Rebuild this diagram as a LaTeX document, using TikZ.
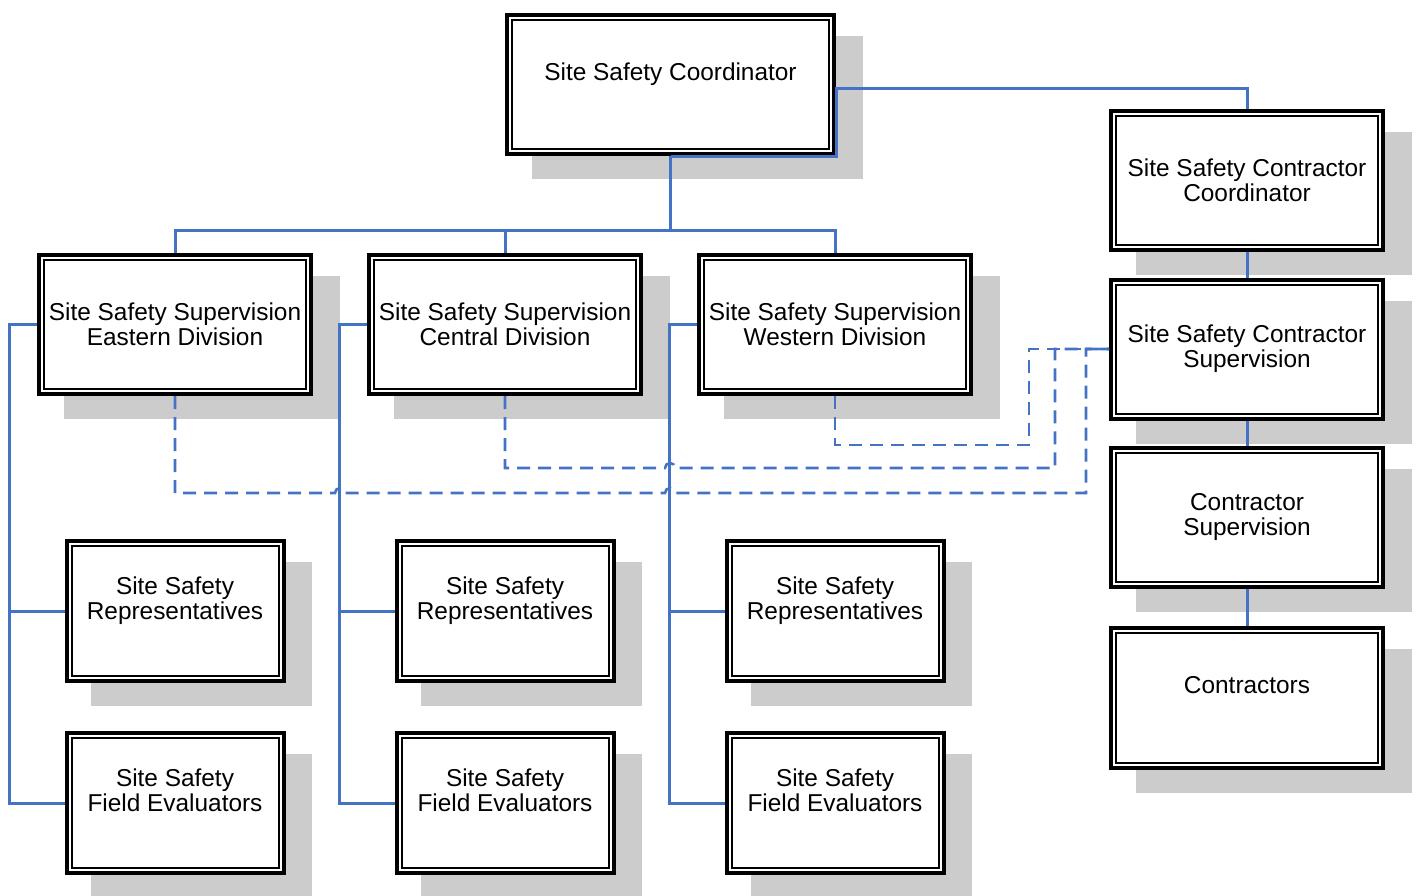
\documentclass[tikz,border=0pt]{standalone}
\usepackage{fontspec}
\setmainfont{Liberation Sans}
\usetikzlibrary{positioning,shadows}
\definecolor{linkblue}{RGB}{68,114,196}

\begin{document}
\begin{tikzpicture}[x=0.5pt,y=-0.5pt,node distance=13pt,line join=miter]
    % 方框与连线样式
    \tikzstyle{box}=[draw,line width=2pt,fill=white,align=center,
        minimum width=136pt,minimum height=69.5pt,
        font=\fontsize{12.2pt}{12.5pt}\selectfont,
        drop shadow={shadow xshift=13.25pt,shadow yshift=-11.5pt,
            fill=black!20,draw=black!20,opacity=1},
        path picture={\draw[line width=1pt]
            ([shift={(2.5pt,-2.5pt)}]path picture bounding box.north west) rectangle
            ([shift={(-2.5pt,2.5pt)}]path picture bounding box.south east);}]
    \tikzstyle{small box}=[box,minimum width=108.5pt,minimum height=70pt]
    \tikzstyle{link}=[draw=linkblue,line width=1.5pt]
    \tikzstyle{dashlink}=[link,line width=1.3pt,dash pattern=on 6.5pt off 4pt]

    \useasboundingbox (0,0) rectangle (1416,895);

    % 上层节点
    \node[box,minimum width=163.5pt] (ssc) at (670.5,84.5) {Site Safety Coordinator\\ ~};
    \node[box] (sscc) at (1247,180) {Site Safety Contractor\\Coordinator};
    \node[box] (sscs) [below=13pt of sscc] {Site Safety Contractor\\Supervision};
    \node[box] (cs) [below=12.5pt of sscs] {Contractor\\Supervision};
    \node[box,minimum height=70pt] (ctr) [below=18.5pt of cs] {Contractors\\ ~};

    % 分部节点
    \node[box] (east) at (175,324.5) {Site Safety Supervision\\Eastern Division};
    \node[box] (cent) at (505,324.5) {Site Safety Supervision\\Central Division};
    \node[box] (west) at (835,324.5) {Site Safety Supervision\\Western Division};

    \node[small box] (erep) [below=71.5pt of east] {Site Safety\\Representatives\\ ~};
    \node[small box] (efe) [below=24pt of erep] {Site Safety\\Field Evaluators\\ ~};
    \node[small box] (crep) [below=71.5pt of cent] {Site Safety\\Representatives\\ ~};
    \node[small box] (cfe) [below=24pt of crep] {Site Safety\\Field Evaluators\\ ~};
    \node[small box] (wrep) [below=71.5pt of west] {Site Safety\\Representatives\\ ~};
    \node[small box] (wfe) [below=24pt of wrep] {Site Safety\\Field Evaluators\\ ~};

    % 实线
    \draw[link] (ssc.south) -- ++(0,74) coordinate (bus) -| (east.north);
    \draw[link] (bus) -| (cent.north);
    \draw[link] (bus) -| (west.north);
    \draw[link] (ssc.south) -- (ssc.south east) -- ([yshift=-2pt]ssc.east) -| (sscc.north);
    \draw[link] (sscc.south) -- (sscs.north);
    \draw[link] (sscs.south) -- (cs.north);
    \draw[link] (cs.south) -- (ctr.north);
    \foreach \s/\r/\f in {east/erep/efe,cent/crep/cfe,west/wrep/wfe}{
        \draw[link] (\s.west) -- ++(-28,0) coordinate (\s bar) |- (\f.west);
        \draw[link] (\s bar |- \r.west) -- (\r.west);
    }

    % 虚线
    \draw[dashlink] (east.south) |- (335,493)
        arc[start angle=180,end angle=0,radius=2.5pt] -- (665,493)
        arc[start angle=180,end angle=0,radius=2.5pt] -- (1086,493) |- (sscs.west);
    \draw[dashlink] (cent.south) |- (665,468)
        arc[start angle=180,end angle=0,radius=2.5pt] -- (1055,468) |- (sscs.west);
    \draw[dashlink] (west.south) |- (1029,445) |- (sscs.west);
\end{tikzpicture}
\end{document}
